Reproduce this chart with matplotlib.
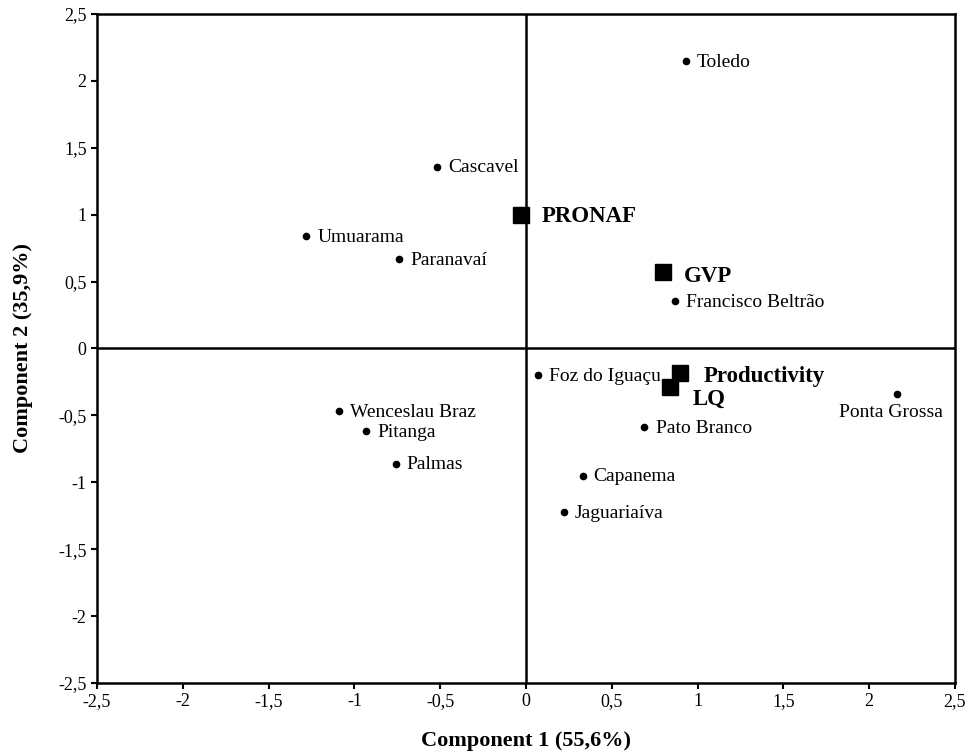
import numpy as np
import matplotlib.pyplot as plt
from matplotlib.ticker import FuncFormatter

# municipios (scores)
cities = ['Toledo', 'Cascavel', 'Umuarama', 'Paranavaí', 'Francisco Beltrão',
          'Foz do Iguaçu', 'Ponta Grossa', 'Wenceslau Braz', 'Pitanga', 'Palmas',
          'Pato Branco', 'Capanema', 'Jaguariaíva']
city_x = [0.93, -0.52, -1.28, -0.74, 0.87, 0.07, 2.16, -1.09, -0.93, -0.76, 0.69, 0.33, 0.22]
city_y = [2.15, 1.36, 0.84, 0.67, 0.355, -0.20, -0.34, -0.47, -0.62, -0.86, -0.59, -0.95, -1.22]

# variables (loadings)
variables = ['PRONAF', 'GVP', 'Productivity', 'LQ']
var_x = [-0.03, 0.80, 0.90, 0.84]
var_y = [1.00, 0.57, -0.18, -0.29]

plt.rcParams['font.family'] = 'Liberation Serif'

fig = plt.figure(figsize=(9.71, 7.56), dpi=100)
ax = fig.add_axes([0.0999, 0.0966, 0.8836, 0.8849])

ax.axhline(0, color='black', lw=1.8, zorder=1)
ax.axvline(0, color='black', lw=1.8, zorder=1)

ax.plot(city_x, city_y, 'o', color='black', ms=4.5, zorder=3)
ax.plot(var_x, var_y, 's', color='black', ms=11, zorder=3)

# etiquetas de los municipios
for name, xi, yi in zip(cities, city_x, city_y):
    if name == 'Ponta Grossa':
        ax.annotate(name, (xi, yi), xytext=(-4, -13), textcoords='offset points',
                    ha='center', va='center', fontsize=14)
    else:
        ax.annotate(name, (xi, yi), xytext=(8, -1), textcoords='offset points',
                    ha='left', va='center', fontsize=14)

# etiquetas de las variables
offsets = {'PRONAF': (15, -1), 'GVP': (15, -3), 'Productivity': (17, -3), 'LQ': (16, -9)}
for name, xi, yi in zip(variables, var_x, var_y):
    ax.annotate(name, (xi, yi), xytext=offsets[name], textcoords='offset points',
                ha='left', va='center', fontsize=16.5, fontweight='bold')

ax.set_xlim(-2.5, 2.5)
ax.set_ylim(-2.5, 2.5)
ticks = np.arange(-2.5, 2.51, 0.5)
ax.set_xticks(ticks)
ax.set_yticks(ticks)
fmt = FuncFormatter(lambda v, p: ('%g' % round(v, 1)).replace('.', ','))
ax.xaxis.set_major_formatter(fmt)
ax.yaxis.set_major_formatter(fmt)
ax.tick_params(direction='out', length=4, width=1.5, labelsize=13)

for s in ax.spines.values():
    s.set_linewidth(1.8)

ax.set_xlabel('Component 1 (55,6%)', fontsize=16, fontweight='bold', labelpad=15)
ax.set_ylabel('Component 2 (35,9%)', fontsize=16, fontweight='bold', labelpad=18)

fig.savefig('out.png', dpi=100)
